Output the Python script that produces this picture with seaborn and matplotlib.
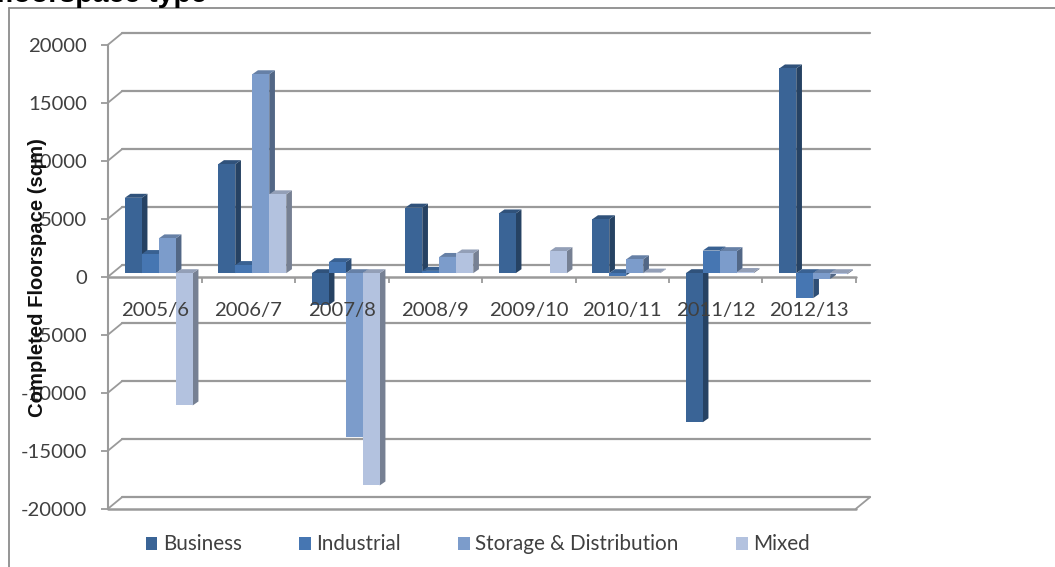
import numpy as np
import pandas as pd
import seaborn as sns
import matplotlib
matplotlib.use("Agg")
import matplotlib.pyplot as plt
from matplotlib.colors import to_rgb
from matplotlib.lines import Line2D
from matplotlib.patches import Polygon
from matplotlib.transforms import ScaledTranslation

years = ["2005/6", "2006/7", "2007/8", "2008/9", "2009/10", "2010/11", "2011/12", "2012/13"]
business = [6500, 9400, -2750, 5650, 5150, 4650, -12850, 17650]
industrial = [1650, 700, 950, 200, 0, -200, 1950, -2150]
storage = [3000, 17150, -14150, 1400, 0, 1200, 1900, -500]
mixed = [-11400, 6800, -18300, 1700, 1900, 50, 100, -100]
series_names = ["Business", "Industrial", "Storage & Distribution", "Mixed"]
series_colors = ["#3A6496", "#4676B2", "#7C9CCB", "#B3C2DF"]
y_ticks = [-20000, -15000, -10000, -5000, 0, 5000, 10000, 15000, 20000]

W, H = 1055, 567
GREY = "#9A9A9A"
TEXT = "#404040"

table = pd.DataFrame({
    "year": np.tile(years, 4),
    "type": np.repeat(series_names, 8),
    "sqm": business + industrial + storage + mixed,
})

sns.set_theme(style="white")
plt.rcParams["font.family"] = ["Lato", "DejaVu Sans"]

fig = plt.figure(figsize=(W / 100, H / 100), dpi=100, facecolor="white")
ax = fig.add_axes([108 / W, 1 - 508.7 / H, 748 / W, 464 / H])
ax.patch.set_alpha(0)

sns.barplot(
    data=table, x="year", y="sqm", hue="type", order=years, hue_order=series_names,
    palette=series_colors, width=0.727, gap=0, saturation=1, estimator="sum",
    errorbar=None, ax=ax, zorder=1.2, linewidth=0,
)
ax.set_xlim(-0.5, 7.5)
ax.set_ylim(-20000, 20000)
ax.set_axisbelow(False)


def plane(dx, dy):
    """Data transform shifted by dx, dy pixels (y upward) to a depth plane."""
    return ax.transData + ScaledTranslation(dx / 100, dy / 100, fig.dpi_scale_trans)


back = plane(14, 11.5)
bar_plane = plane(4, 3.5)

# Walls and floor of the box behind the bars
for value in y_ticks:
    ax.plot([-0.5, 7.5], [value, value], transform=back, color=GREY, lw=1.6,
            clip_on=False, zorder=0.8)
    x0, y0 = ax.transData.transform((-0.5, value))
    fig.add_artist(Line2D([x0 / W, (x0 + 14) / W], [y0 / H, (y0 + 11.5) / H],
                          color=GREY, lw=1.3, zorder=0.5))
x0, y0 = ax.transData.transform((7.5, -20000))
fig.add_artist(Line2D([x0 / W, (x0 + 14) / W], [y0 / H, (y0 + 11.5) / H],
                      color=GREY, lw=1.3, zorder=0.5))
ax.plot([-0.5, 7.5], [0, 0], color=GREY, lw=1.8, clip_on=False, zorder=0.9)
ax.plot([-0.5, 7.5], [-20000, -20000], color=GREY, lw=1.8, clip_on=False, zorder=0.9)

# Extrude each bar: shaded side and top faces behind its front face
px_x = 8 / 748
px_y = 40000 / 464
depth_x, depth_y = 5.7 * px_x, 4 * px_y


def shade(rgb, factor):
    return tuple(c * factor for c in rgb)


for s, container in enumerate(ax.containers):
    for bar in container:
        if bar.get_height() == 0:
            continue
        x_l, x_r = bar.get_x(), bar.get_x() + bar.get_width()
        y_a, y_b = sorted((bar.get_y(), bar.get_y() + bar.get_height()))
        base = to_rgb(series_colors[s])
        order = 1.2 + s * 0.1
        ax.add_patch(Polygon(
            [(x_r, y_a), (x_r + depth_x, y_a + depth_y), (x_r + depth_x, y_b + depth_y), (x_r, y_b)],
            facecolor=shade(base, 0.66), edgecolor="none", transform=bar_plane,
            clip_on=False, zorder=order))
        ax.add_patch(Polygon(
            [(x_l, y_b), (x_r, y_b), (x_r + depth_x, y_b + depth_y), (x_l + depth_x, y_b + depth_y)],
            facecolor=shade(base, 0.82), edgecolor="none", transform=bar_plane,
            clip_on=False, zorder=order))
        bar.set_transform(bar_plane)
        bar.set_clip_on(False)
        bar.set_zorder(order + 0.05)

# Axes furniture
for name in ("top", "right", "bottom"):
    ax.spines[name].set_visible(False)
ax.spines["left"].set_color(GREY)
ax.spines["left"].set_linewidth(1.5)
ax.set_yticks(y_ticks, [str(v) for v in y_ticks])
ax.set_xticks(np.arange(-0.5, 8, 1), [""] * 9)
ax.set_xticks(np.arange(8), years, minor=True)
ax.spines["bottom"].set_position(("data", 0))
ax.tick_params(axis="y", left=True, length=5, width=1.3, color=GREY, pad=10,
               labelsize=14.6, labelcolor=TEXT)
ax.tick_params(axis="x", which="major", bottom=True, length=4.5, width=1.3, color=GREY)
ax.tick_params(axis="x", which="minor", bottom=True, length=0, pad=18,
               labelsize=14.6, labelcolor=TEXT)
ax.set_xlabel("")
ax.set_ylabel("")
fig.text(38 / W, 1 - 277.5 / H, "Completed Floorspace (sqm)", rotation=90, ha="center",
         va="center", fontsize=14.6, fontweight="bold", color="#111111",
         family=["Liberation Sans", "DejaVu Sans"])

sns.move_legend(
    ax, "center left", bbox_to_anchor=(145.5 / W, 1 - 544.5 / H),
    bbox_transform=fig.transFigure, ncol=4, frameon=False, title=None, fontsize=14.85,
    labelcolor=TEXT, handlelength=0.57, handleheight=0.57, handletextpad=0.27,
    columnspacing=2.77, borderpad=0, borderaxespad=0,
)

# Chart frame and the heading cut off by the top edge
fig.add_artist(Line2D([9 / W, 9 / W], [0, 1 - 8 / H], color="#8C8C8C", lw=1.3))
fig.add_artist(Line2D([9 / W, 1], [1 - 8 / H, 1 - 8 / H], color="#8C8C8C", lw=1.3))
fig.text(-4 / W, 1 - 2 / H, "floorspace type", fontsize=20.5, fontweight="bold",
         color="black", va="baseline", family=["Liberation Sans", "DejaVu Sans"])

fig.savefig("out.png", dpi=100, facecolor="white")
